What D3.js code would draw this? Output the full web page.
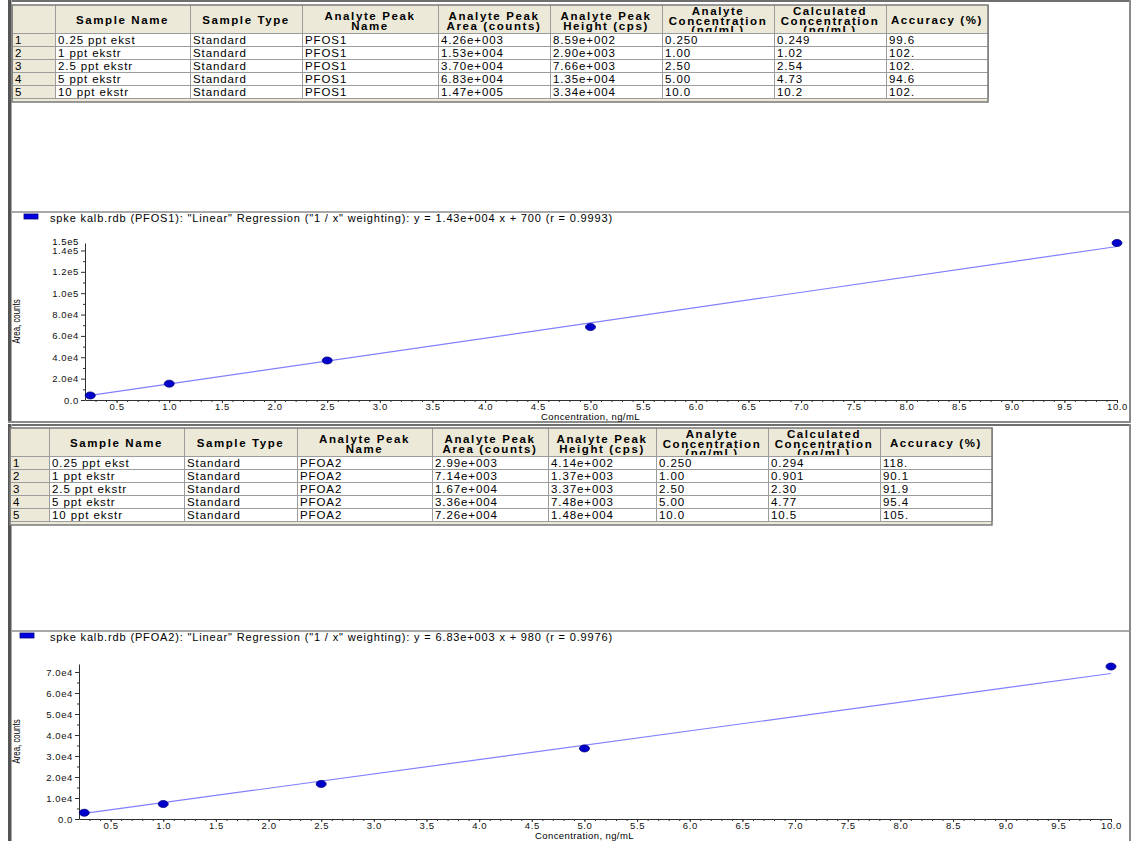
<!DOCTYPE html>
<html>
<head>
<meta charset="utf-8">
<script src="https://cdn.jsdelivr.net/npm/d3@7/dist/d3.min.js"></script>
<style>
  html, body { margin: 0; padding: 0; background: #ffffff; }
  svg { display: block; font-family: "Liberation Sans", Arial, sans-serif; }
</style>
</head>
<body>
<svg id="chart" width="1132" height="841"></svg>
<script>
// ---- Calibration data (results table + regression) ----
const sampleNames   = ["0.25 ppt ekst", "1 ppt ekstr", "2.5 ppt ekstr", "5 ppt ekstr", "10 ppt ekstr"];
const sampleType    = "Standard";
const nominalConc   = [0.25, 1.00, 2.50, 5.00, 10.0];

const pfosArea      = [4.26e3, 1.53e4, 3.70e4, 6.83e4, 1.47e5];
const pfosHeight    = [8.59e2, 2.90e3, 7.66e3, 1.35e4, 3.34e4];
const pfosCalc      = [0.249, 1.02, 2.54, 4.73, 10.2];
const pfosAccuracy  = [99.6, 102, 102, 94.6, 102];

const pfoaArea      = [2.99e3, 7.14e3, 1.67e4, 3.36e4, 7.26e4];
const pfoaHeight    = [4.14e2, 1.37e3, 3.37e3, 7.48e3, 1.48e4];
const pfoaCalc      = [0.294, 0.901, 2.30, 4.77, 10.5];
const pfoaAccuracy  = [118, 90.1, 91.9, 95.4, 105];

const analyteNames  = ["PFOS1", "PFOA2"];
const fitSlope      = [1.43e4, 6.83e3];
const fitIntercept  = [700, 980];
const fitR          = [0.9993, 0.9976];

// axis ranges and tick values
const xTicksMajor   = d3.range(1, 21).map(i => i * 0.5);      // 0.5 … 10.0
const xTicksMinor   = d3.range(3, 101).map(i => i * 0.1);     // every 0.1
const yTopValue     = [1.47e5, 7.38e4];
const yTicksPfos    = [0, 2e4, 4e4, 6e4, 8e4, 1.0e5, 1.2e5, 1.4e5];
const yTicksPfoa    = [0, 1e4, 2e4, 3e4, 4e4, 5e4, 6e4, 7e4];

const headerLines = [
  [""], ["Sample Name"], ["Sample Type"], ["Analyte Peak", "Name"],
  ["Analyte Peak", "Area (counts)"], ["Analyte Peak", "Height (cps)"],
  ["Analyte", "Concentration", "(ng/mL)"], ["Calculated", "Concentration", "(ng/mL)"],
  ["Accuracy (%)"]
];

// ---- formatting helpers ----
const sci3 = v => {               // 4.26e+003 style
  const [m, e] = d3.format(".2e")(v).split("e");
  return m + "e" + e[0] + e.slice(1).padStart(3, "0");
};
const sig3 = v => d3.format(".3r")(v);
const acc = v => { const s = d3.format(".3r")(v); return s.includes(".") ? s : s + "."; };
const yFmt = v => v === 0 ? "0.0" : d3.format(".1e")(v).replace("e+", "e");

const svg = d3.select("#chart");
let clipId = 0;

// ---- sunken window frame ----
function drawFrame(y0, y1) {
  const g = svg.append("g");
  g.append("rect").attr("x", 8).attr("y", y0).attr("width", 1123).attr("height", y1 - y0).attr("fill", "#ffffff");
  g.append("rect").attr("x", 8).attr("y", y0).attr("width", 1123).attr("height", 2).attr("fill", "#6e6e6e");
  g.append("rect").attr("x", 8).attr("y", y0).attr("width", 3).attr("height", y1 - y0).attr("fill", "#555555");
  g.append("rect").attr("x", 11).attr("y", y0).attr("width", 1).attr("height", y1 - y0).attr("fill", "#a8a8a8");
  g.append("rect").attr("x", 1129).attr("y", y0).attr("width", 2).attr("height", y1 - y0).attr("fill", "#8a8a8a");
  g.append("rect").attr("x", 8).attr("y", y1 - 2).attr("width", 1123).attr("height", 2).attr("fill", "#8a8a8a");
}

// ---- results table ----
function drawTable(top, edges, analyte, names, area, height, calc, accuracy) {
  const g = svg.append("g");
  const headH = 28, rowH = 13;
  const left = edges[0], right = edges[edges.length - 1];
  const bodyTop = top + headH;
  const nRows = names.length;
  const bottom = bodyTop + nRows * rowH;

  // header band, bottom strip, index column
  g.append("rect").attr("x", left).attr("y", top).attr("width", right - left).attr("height", headH)
    .attr("fill", "#ece9d8");
  g.append("rect").attr("x", left).attr("y", bottom).attr("width", right - left).attr("height", 4)
    .attr("fill", "#ece9d8");
  g.append("rect").attr("x", left).attr("y", bodyTop).attr("width", edges[1] - left).attr("height", nRows * rowH)
    .attr("fill", "#ece9d8");

  // header texts (clipped to the header cell)
  const lineY = { 1: [18.5], 2: [14.5, 24.5], 3: [10, 19.5, 29] };
  headerLines.forEach((lines, c) => {
    const id = "hc" + (clipId++);
    svg.append("clipPath").attr("id", id).append("rect")
      .attr("x", edges[c]).attr("y", top).attr("width", edges[c + 1] - edges[c]).attr("height", headH - 1);
    const cx = (edges[c] + edges[c + 1]) / 2;
    lines.forEach((t, i) => {
      g.append("text").attr("clip-path", `url(#${id})`)
        .attr("x", cx).attr("y", top + lineY[lines.length][i])
        .attr("text-anchor", "middle").attr("font-size", 11.5).attr("font-weight", "bold")
        .attr("letter-spacing", "1.6px").attr("fill", "#000").text(t);
    });
  });

  // body cells
  const rows = names.map((nm, i) => [
    String(i + 1), nm, sampleType, analyte, sci3(area[i]), sci3(height[i]),
    sig3(nominalConc[i]), sig3(calc[i]), acc(accuracy[i])
  ]);
  rows.forEach((r, i) => {
    const y = bodyTop + i * rowH;
    r.forEach((txt, c) => {
      g.append("text").attr("x", edges[c] + 3).attr("y", y + 10.5)
        .attr("font-size", 11.5).attr("letter-spacing", "0.9px").attr("fill", "#000").text(txt);
    });
  });

  // grid
  const grid = g.append("g").attr("stroke", "#9c9c9c").attr("stroke-width", 1).attr("shape-rendering", "crispEdges");
  edges.forEach(x => grid.append("line").attr("x1", x).attr("x2", x).attr("y1", top).attr("y2", bottom));
  d3.range(nRows + 1).forEach(i => grid.append("line")
    .attr("x1", left).attr("x2", right).attr("y1", bodyTop + i * rowH).attr("y2", bodyTop + i * rowH));
  g.append("rect").attr("x", left).attr("y", top).attr("width", right - left).attr("height", bottom + 4 - top)
    .attr("fill", "none").attr("stroke", "#7a7a7a").attr("stroke-width", 1.5);
  return g;
}

// ---- calibration curve ----
function drawCurve(k, cfg) {
  const area = k === 0 ? pfosArea : pfoaArea;
  const g = svg.append("g");

  // separator and legend
  g.append("line").attr("x1", 12).attr("x2", 1129).attr("y1", cfg.sepY).attr("y2", cfg.sepY)
    .attr("stroke", "#8c8c8c").attr("stroke-width", 1.5);
  g.append("rect").attr("x", cfg.legX).attr("y", cfg.sepY + 2).attr("width", 14).attr("height", 5)
    .attr("fill", "#0000e0").attr("stroke", "#000080").attr("stroke-width", 0.8);
  g.append("text").attr("x", 50).attr("y", cfg.sepY + 9.5).attr("font-size", 11).attr("letter-spacing", "0.85px")
    .attr("fill", "#000")
    .text(`spke kalb.rdb (${analyteNames[k]}): "Linear" Regression ("1 / x" weighting): y = ${sci3(fitSlope[k])} x + ${fitIntercept[k]} (r = ${fitR[k]})`);

  const x = d3.scaleLinear().domain([0.2, 10]).range([cfg.x0, cfg.x1]);
  const y = d3.scaleLinear().domain([0, yTopValue[k]]).range([cfg.yBottom, cfg.yTop]);

  // y axis
  const yMajor = k === 0 ? yTicksPfos : yTicksPfoa;
  const yStep = yMajor[1] - yMajor[0];
  const yMinor = d3.range(yStep / 2, yTopValue[k], yStep);
  const yAx = g.append("g").attr("transform", `translate(${cfg.x0},0)`)
    .call(d3.axisLeft(y).tickValues(yMajor).tickFormat(yFmt).tickSize(4).tickSizeOuter(0).tickPadding(2));
  g.append("g").attr("transform", `translate(${cfg.x0},0)`)
    .call(d3.axisLeft(y).tickValues(yMinor).tickFormat("").tickSize(2).tickSizeOuter(0))
    .select(".domain").remove();
  if (cfg.showTopLabel) {
    yAx.append("text").attr("x", -6).attr("y", y(yTopValue[k]) - 1).attr("dy", "0.32em")
      .attr("text-anchor", "end").attr("fill", "#000").text(yFmt(yTopValue[k]));
  }

  // x axis
  g.append("g").attr("transform", `translate(0,${cfg.yBottom})`)
    .call(d3.axisBottom(x).tickValues(xTicksMajor).tickFormat(d3.format(".1f")).tickSize(3).tickSizeOuter(0).tickPadding(0));
  g.append("g").attr("transform", `translate(0,${cfg.yBottom})`)
    .call(d3.axisBottom(x).tickValues(xTicksMinor).tickFormat("").tickSize(2).tickSizeOuter(0))
    .select(".domain").remove();

  g.selectAll(".domain").attr("stroke", "#303030");
  g.selectAll(".tick line").attr("stroke", "#303030");
  g.selectAll(".tick text").attr("font-size", 9.5).attr("letter-spacing", "0.6px").attr("fill", "#111")
    .attr("font-family", '"Liberation Sans", Arial, sans-serif');
  yAx.selectAll("text").attr("font-size", 9.5).attr("letter-spacing", "0.6px")
    .attr("font-family", '"Liberation Sans", Arial, sans-serif');

  // axis titles
  g.append("text").attr("x", x(5)).attr("y", cfg.yBottom + 20).attr("text-anchor", "middle")
    .attr("font-size", 9.5).attr("letter-spacing", "0.4px").attr("fill", "#000").text("Concentration, ng/mL");
  g.append("text")
    .attr("transform", `translate(20,${(cfg.yBottom + cfg.yTop) / 2}) rotate(-90) scale(0.75,1)`)
    .attr("text-anchor", "middle").attr("font-size", 10.5).attr("fill", "#000").text("Area, counts");

  // regression line
  const xs = d3.extent(nominalConc);
  g.append("line")
    .attr("x1", x(xs[0])).attr("y1", y(fitSlope[k] * xs[0] + fitIntercept[k]))
    .attr("x2", x(xs[1])).attr("y2", y(fitSlope[k] * xs[1] + fitIntercept[k]))
    .attr("stroke", "#8080ff").attr("stroke-width", 1.2);

  // standards
  g.selectAll("ellipse.pt").data(nominalConc).enter().append("ellipse").attr("class", "pt")
    .attr("cx", d => x(d)).attr("cy", (d, i) => y(area[i]))
    .attr("rx", 5).attr("ry", 3.5)
    .attr("fill", "#0000cc").attr("stroke", "#00007a").attr("stroke-width", 0.8);
}

// ---- panel 1: PFOS ----
drawFrame(0, 423);
drawTable(5, [12, 55, 190, 302, 438, 550, 662, 774, 886, 988],
  analyteNames[0], sampleNames, pfosArea, pfosHeight, pfosCalc, pfosAccuracy);
drawCurve(0, { sepY: 212, legX: 24, x0: 85, x1: 1117, yBottom: 400, yTop: 243, showTopLabel: true });

// ---- panel 2: PFOA ----
drawFrame(424, 845);
drawTable(428, [10, 49, 184, 297, 432, 548, 656, 768, 880, 992],
  analyteNames[1], sampleNames, pfoaArea, pfoaHeight, pfoaCalc, pfoaAccuracy);
drawCurve(1, { sepY: 631, legX: 20, x0: 79, x1: 1111, yBottom: 819, yTop: 664, showTopLabel: false });
</script>
</body>
</html>
